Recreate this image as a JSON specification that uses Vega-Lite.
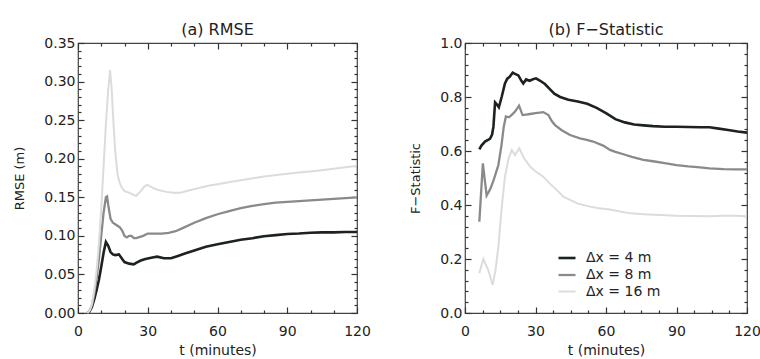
{
  "$schema": "https://vega.github.io/schema/vega-lite/v6.json",
  "background": "white",
  "padding": {"left": 13, "top": 21, "right": 0, "bottom": 2},
  "spacing": 108,
  "bounds": "flush",
  "config": {
    "font": "DejaVu Sans",
    "view": {"stroke": "#444", "strokeWidth": 1.2},
    "axis": {"domain": false, "grid": false, "labelFont": "DejaVu Sans", "labelFontSize": 14, "labelColor": "#222", "tickColor": "#333", "tickWidth": 1.2, "titleFont": "DejaVu Sans", "titleFontSize": 14, "titleFontWeight": "normal", "titleColor": "#222", "labelOverlap": false, "labelFlush": false},
    "title": {"font": "DejaVu Sans", "fontSize": 16, "fontWeight": "normal", "color": "#222", "anchor": "middle", "offset": -2}
  },
  "datasets": {
    "rmse": [
      {"t":4,"v":0,"s":"Δx = 4 m"},{"t":5,"v":0.002,"s":"Δx = 4 m"},{"t":6,"v":0.008,"s":"Δx = 4 m"},{"t":7,"v":0.018,"s":"Δx = 4 m"},{"t":8,"v":0.03,"s":"Δx = 4 m"},{"t":9,"v":0.043,"s":"Δx = 4 m"},{"t":10,"v":0.06,"s":"Δx = 4 m"},{"t":11,"v":0.078,"s":"Δx = 4 m"},{"t":12,"v":0.092,"s":"Δx = 4 m"},{"t":13,"v":0.087,"s":"Δx = 4 m"},{"t":14,"v":0.079,"s":"Δx = 4 m"},{"t":15,"v":0.076,"s":"Δx = 4 m"},{"t":16,"v":0.075,"s":"Δx = 4 m"},{"t":17.6,"v":0.076,"s":"Δx = 4 m"},{"t":19,"v":0.07,"s":"Δx = 4 m"},{"t":20,"v":0.066,"s":"Δx = 4 m"},{"t":22,"v":0.064,"s":"Δx = 4 m"},{"t":24,"v":0.063,"s":"Δx = 4 m"},{"t":25,"v":0.065,"s":"Δx = 4 m"},{"t":27,"v":0.068,"s":"Δx = 4 m"},{"t":29,"v":0.07,"s":"Δx = 4 m"},{"t":32,"v":0.072,"s":"Δx = 4 m"},{"t":34,"v":0.073,"s":"Δx = 4 m"},{"t":37,"v":0.071,"s":"Δx = 4 m"},{"t":40,"v":0.071,"s":"Δx = 4 m"},{"t":43,"v":0.074,"s":"Δx = 4 m"},{"t":46,"v":0.077,"s":"Δx = 4 m"},{"t":50,"v":0.081,"s":"Δx = 4 m"},{"t":55,"v":0.086,"s":"Δx = 4 m"},{"t":60,"v":0.089,"s":"Δx = 4 m"},{"t":65,"v":0.092,"s":"Δx = 4 m"},{"t":70,"v":0.095,"s":"Δx = 4 m"},{"t":75,"v":0.097,"s":"Δx = 4 m"},{"t":80,"v":0.0995,"s":"Δx = 4 m"},{"t":85,"v":0.101,"s":"Δx = 4 m"},{"t":90,"v":0.1025,"s":"Δx = 4 m"},{"t":95,"v":0.103,"s":"Δx = 4 m"},{"t":100,"v":0.104,"s":"Δx = 4 m"},{"t":105,"v":0.1045,"s":"Δx = 4 m"},{"t":110,"v":0.1045,"s":"Δx = 4 m"},{"t":115,"v":0.105,"s":"Δx = 4 m"},{"t":120,"v":0.105,"s":"Δx = 4 m"},
      {"t":4,"v":0,"s":"Δx = 8 m"},{"t":5,"v":0.003,"s":"Δx = 8 m"},{"t":6,"v":0.01,"s":"Δx = 8 m"},{"t":7,"v":0.025,"s":"Δx = 8 m"},{"t":8,"v":0.045,"s":"Δx = 8 m"},{"t":9,"v":0.07,"s":"Δx = 8 m"},{"t":10,"v":0.1,"s":"Δx = 8 m"},{"t":11,"v":0.13,"s":"Δx = 8 m"},{"t":12,"v":0.15,"s":"Δx = 8 m"},{"t":12.5,"v":0.151,"s":"Δx = 8 m"},{"t":13,"v":0.14,"s":"Δx = 8 m"},{"t":14,"v":0.122,"s":"Δx = 8 m"},{"t":15,"v":0.117,"s":"Δx = 8 m"},{"t":16,"v":0.115,"s":"Δx = 8 m"},{"t":17,"v":0.113,"s":"Δx = 8 m"},{"t":18,"v":0.111,"s":"Δx = 8 m"},{"t":19,"v":0.107,"s":"Δx = 8 m"},{"t":20,"v":0.1,"s":"Δx = 8 m"},{"t":21,"v":0.098,"s":"Δx = 8 m"},{"t":22,"v":0.1,"s":"Δx = 8 m"},{"t":23,"v":0.1,"s":"Δx = 8 m"},{"t":24,"v":0.097,"s":"Δx = 8 m"},{"t":25,"v":0.097,"s":"Δx = 8 m"},{"t":26,"v":0.098,"s":"Δx = 8 m"},{"t":28,"v":0.1,"s":"Δx = 8 m"},{"t":30,"v":0.103,"s":"Δx = 8 m"},{"t":33,"v":0.103,"s":"Δx = 8 m"},{"t":36,"v":0.103,"s":"Δx = 8 m"},{"t":39,"v":0.104,"s":"Δx = 8 m"},{"t":42,"v":0.106,"s":"Δx = 8 m"},{"t":45,"v":0.11,"s":"Δx = 8 m"},{"t":50,"v":0.117,"s":"Δx = 8 m"},{"t":55,"v":0.123,"s":"Δx = 8 m"},{"t":60,"v":0.128,"s":"Δx = 8 m"},{"t":65,"v":0.132,"s":"Δx = 8 m"},{"t":70,"v":0.136,"s":"Δx = 8 m"},{"t":75,"v":0.139,"s":"Δx = 8 m"},{"t":80,"v":0.141,"s":"Δx = 8 m"},{"t":85,"v":0.143,"s":"Δx = 8 m"},{"t":90,"v":0.144,"s":"Δx = 8 m"},{"t":95,"v":0.145,"s":"Δx = 8 m"},{"t":100,"v":0.146,"s":"Δx = 8 m"},{"t":105,"v":0.147,"s":"Δx = 8 m"},{"t":110,"v":0.148,"s":"Δx = 8 m"},{"t":115,"v":0.149,"s":"Δx = 8 m"},{"t":120,"v":0.15,"s":"Δx = 8 m"},
      {"t":4,"v":0,"s":"Δx = 16 m"},{"t":5,"v":0.003,"s":"Δx = 16 m"},{"t":6,"v":0.012,"s":"Δx = 16 m"},{"t":7,"v":0.03,"s":"Δx = 16 m"},{"t":8,"v":0.055,"s":"Δx = 16 m"},{"t":9,"v":0.09,"s":"Δx = 16 m"},{"t":10,"v":0.135,"s":"Δx = 16 m"},{"t":11,"v":0.19,"s":"Δx = 16 m"},{"t":12,"v":0.245,"s":"Δx = 16 m"},{"t":13,"v":0.29,"s":"Δx = 16 m"},{"t":13.8,"v":0.315,"s":"Δx = 16 m"},{"t":14.5,"v":0.29,"s":"Δx = 16 m"},{"t":15,"v":0.26,"s":"Δx = 16 m"},{"t":16,"v":0.21,"s":"Δx = 16 m"},{"t":17,"v":0.18,"s":"Δx = 16 m"},{"t":18,"v":0.168,"s":"Δx = 16 m"},{"t":19,"v":0.162,"s":"Δx = 16 m"},{"t":20,"v":0.158,"s":"Δx = 16 m"},{"t":22,"v":0.156,"s":"Δx = 16 m"},{"t":24,"v":0.153,"s":"Δx = 16 m"},{"t":25,"v":0.152,"s":"Δx = 16 m"},{"t":26,"v":0.155,"s":"Δx = 16 m"},{"t":27,"v":0.158,"s":"Δx = 16 m"},{"t":28,"v":0.162,"s":"Δx = 16 m"},{"t":29,"v":0.165,"s":"Δx = 16 m"},{"t":30,"v":0.166,"s":"Δx = 16 m"},{"t":31,"v":0.164,"s":"Δx = 16 m"},{"t":33,"v":0.161,"s":"Δx = 16 m"},{"t":35,"v":0.159,"s":"Δx = 16 m"},{"t":38,"v":0.157,"s":"Δx = 16 m"},{"t":41,"v":0.156,"s":"Δx = 16 m"},{"t":44,"v":0.156,"s":"Δx = 16 m"},{"t":48,"v":0.159,"s":"Δx = 16 m"},{"t":52,"v":0.162,"s":"Δx = 16 m"},{"t":56,"v":0.165,"s":"Δx = 16 m"},{"t":60,"v":0.167,"s":"Δx = 16 m"},{"t":66,"v":0.17,"s":"Δx = 16 m"},{"t":72,"v":0.173,"s":"Δx = 16 m"},{"t":80,"v":0.177,"s":"Δx = 16 m"},{"t":88,"v":0.18,"s":"Δx = 16 m"},{"t":95,"v":0.182,"s":"Δx = 16 m"},{"t":102,"v":0.184,"s":"Δx = 16 m"},{"t":110,"v":0.187,"s":"Δx = 16 m"},{"t":115,"v":0.189,"s":"Δx = 16 m"},{"t":120,"v":0.191,"s":"Δx = 16 m"}
    ],
    "fstat": [
      {"t":6.1,"v":0.606,"s":"Δx = 4 m"},{"t":7,"v":0.62,"s":"Δx = 4 m"},{"t":8.5,"v":0.635,"s":"Δx = 4 m"},{"t":10.6,"v":0.645,"s":"Δx = 4 m"},{"t":11.5,"v":0.66,"s":"Δx = 4 m"},{"t":12.1,"v":0.69,"s":"Δx = 4 m"},{"t":12.8,"v":0.78,"s":"Δx = 4 m"},{"t":13.6,"v":0.772,"s":"Δx = 4 m"},{"t":14.4,"v":0.762,"s":"Δx = 4 m"},{"t":15.6,"v":0.8,"s":"Δx = 4 m"},{"t":17,"v":0.85,"s":"Δx = 4 m"},{"t":18,"v":0.868,"s":"Δx = 4 m"},{"t":19,"v":0.875,"s":"Δx = 4 m"},{"t":20.3,"v":0.89,"s":"Δx = 4 m"},{"t":21.5,"v":0.885,"s":"Δx = 4 m"},{"t":22.7,"v":0.88,"s":"Δx = 4 m"},{"t":24,"v":0.86,"s":"Δx = 4 m"},{"t":24.8,"v":0.85,"s":"Δx = 4 m"},{"t":26,"v":0.865,"s":"Δx = 4 m"},{"t":27.5,"v":0.86,"s":"Δx = 4 m"},{"t":29,"v":0.866,"s":"Δx = 4 m"},{"t":30.2,"v":0.869,"s":"Δx = 4 m"},{"t":32,"v":0.86,"s":"Δx = 4 m"},{"t":34,"v":0.848,"s":"Δx = 4 m"},{"t":36,"v":0.83,"s":"Δx = 4 m"},{"t":38,"v":0.812,"s":"Δx = 4 m"},{"t":40.5,"v":0.8,"s":"Δx = 4 m"},{"t":44,"v":0.79,"s":"Δx = 4 m"},{"t":48,"v":0.783,"s":"Δx = 4 m"},{"t":52,"v":0.775,"s":"Δx = 4 m"},{"t":56,"v":0.76,"s":"Δx = 4 m"},{"t":60,"v":0.74,"s":"Δx = 4 m"},{"t":64,"v":0.718,"s":"Δx = 4 m"},{"t":68,"v":0.706,"s":"Δx = 4 m"},{"t":72,"v":0.698,"s":"Δx = 4 m"},{"t":76,"v":0.695,"s":"Δx = 4 m"},{"t":80,"v":0.692,"s":"Δx = 4 m"},{"t":85,"v":0.69,"s":"Δx = 4 m"},{"t":90,"v":0.69,"s":"Δx = 4 m"},{"t":95,"v":0.689,"s":"Δx = 4 m"},{"t":100,"v":0.688,"s":"Δx = 4 m"},{"t":104,"v":0.688,"s":"Δx = 4 m"},{"t":108,"v":0.683,"s":"Δx = 4 m"},{"t":112,"v":0.678,"s":"Δx = 4 m"},{"t":116,"v":0.672,"s":"Δx = 4 m"},{"t":120,"v":0.668,"s":"Δx = 4 m"},
      {"t":6.1,"v":0.338,"s":"Δx = 8 m"},{"t":7.6,"v":0.554,"s":"Δx = 8 m"},{"t":9.2,"v":0.435,"s":"Δx = 8 m"},{"t":10.8,"v":0.46,"s":"Δx = 8 m"},{"t":12.1,"v":0.49,"s":"Δx = 8 m"},{"t":13.2,"v":0.52,"s":"Δx = 8 m"},{"t":14.2,"v":0.548,"s":"Δx = 8 m"},{"t":15.5,"v":0.62,"s":"Δx = 8 m"},{"t":16.5,"v":0.69,"s":"Δx = 8 m"},{"t":17.4,"v":0.728,"s":"Δx = 8 m"},{"t":18.7,"v":0.725,"s":"Δx = 8 m"},{"t":20,"v":0.735,"s":"Δx = 8 m"},{"t":21.3,"v":0.746,"s":"Δx = 8 m"},{"t":23,"v":0.768,"s":"Δx = 8 m"},{"t":24.5,"v":0.733,"s":"Δx = 8 m"},{"t":26,"v":0.735,"s":"Δx = 8 m"},{"t":27.7,"v":0.737,"s":"Δx = 8 m"},{"t":30,"v":0.74,"s":"Δx = 8 m"},{"t":33.3,"v":0.744,"s":"Δx = 8 m"},{"t":35.5,"v":0.733,"s":"Δx = 8 m"},{"t":37,"v":0.71,"s":"Δx = 8 m"},{"t":38.3,"v":0.696,"s":"Δx = 8 m"},{"t":41,"v":0.678,"s":"Δx = 8 m"},{"t":44.7,"v":0.659,"s":"Δx = 8 m"},{"t":48.9,"v":0.647,"s":"Δx = 8 m"},{"t":51.8,"v":0.641,"s":"Δx = 8 m"},{"t":54.5,"v":0.635,"s":"Δx = 8 m"},{"t":58.8,"v":0.62,"s":"Δx = 8 m"},{"t":61.7,"v":0.604,"s":"Δx = 8 m"},{"t":64,"v":0.597,"s":"Δx = 8 m"},{"t":67.4,"v":0.588,"s":"Δx = 8 m"},{"t":71,"v":0.578,"s":"Δx = 8 m"},{"t":75.9,"v":0.567,"s":"Δx = 8 m"},{"t":80,"v":0.562,"s":"Δx = 8 m"},{"t":85,"v":0.555,"s":"Δx = 8 m"},{"t":90,"v":0.548,"s":"Δx = 8 m"},{"t":95,"v":0.543,"s":"Δx = 8 m"},{"t":100,"v":0.539,"s":"Δx = 8 m"},{"t":104,"v":0.536,"s":"Δx = 8 m"},{"t":110,"v":0.533,"s":"Δx = 8 m"},{"t":115,"v":0.532,"s":"Δx = 8 m"},{"t":120,"v":0.532,"s":"Δx = 8 m"},
      {"t":6.1,"v":0.147,"s":"Δx = 16 m"},{"t":7.8,"v":0.2,"s":"Δx = 16 m"},{"t":9.9,"v":0.159,"s":"Δx = 16 m"},{"t":11.8,"v":0.104,"s":"Δx = 16 m"},{"t":13,"v":0.16,"s":"Δx = 16 m"},{"t":14.2,"v":0.246,"s":"Δx = 16 m"},{"t":15.5,"v":0.38,"s":"Δx = 16 m"},{"t":17,"v":0.505,"s":"Δx = 16 m"},{"t":18.5,"v":0.57,"s":"Δx = 16 m"},{"t":19.9,"v":0.604,"s":"Δx = 16 m"},{"t":21.3,"v":0.585,"s":"Δx = 16 m"},{"t":23.1,"v":0.61,"s":"Δx = 16 m"},{"t":25,"v":0.575,"s":"Δx = 16 m"},{"t":27.7,"v":0.542,"s":"Δx = 16 m"},{"t":30,"v":0.525,"s":"Δx = 16 m"},{"t":33.3,"v":0.505,"s":"Δx = 16 m"},{"t":36,"v":0.48,"s":"Δx = 16 m"},{"t":39,"v":0.456,"s":"Δx = 16 m"},{"t":42,"v":0.43,"s":"Δx = 16 m"},{"t":44.7,"v":0.419,"s":"Δx = 16 m"},{"t":48,"v":0.405,"s":"Δx = 16 m"},{"t":53.2,"v":0.394,"s":"Δx = 16 m"},{"t":57,"v":0.388,"s":"Δx = 16 m"},{"t":61.7,"v":0.383,"s":"Δx = 16 m"},{"t":66,"v":0.376,"s":"Δx = 16 m"},{"t":70.2,"v":0.369,"s":"Δx = 16 m"},{"t":76,"v":0.366,"s":"Δx = 16 m"},{"t":83,"v":0.363,"s":"Δx = 16 m"},{"t":90,"v":0.36,"s":"Δx = 16 m"},{"t":97,"v":0.359,"s":"Δx = 16 m"},{"t":104,"v":0.358,"s":"Δx = 16 m"},{"t":110,"v":0.36,"s":"Δx = 16 m"},{"t":115,"v":0.36,"s":"Δx = 16 m"},{"t":120,"v":0.358,"s":"Δx = 16 m"}
    ]
  },
  "resolve": {"scale": {"color": "independent", "strokeWidth": "independent"}, "legend": {"color": "independent", "strokeWidth": "independent"}},
  "hconcat": [
    {
      "width": 279, "height": 270,
      "title": {"text": "(a) RMSE"},
      "data": {"name": "rmse"},
      "resolve": {"axis": {"x": "independent", "y": "independent"}},
      "layer": [
        {
          "mark": {"type": "line", "interpolate": "linear"},
          "encoding": {
            "x": {"field": "t", "type": "quantitative", "scale": {"domain": [0, 120], "nice": false},
              "axis": {"orient": "bottom", "values": [0,10,20,30,40,50,60,70,80,90,100,110,120], "labelExpr": "datum.value % 30 === 0 ? datum.label : ''", "tickSize": {"condition": {"test": "datum.value % 30 === 0", "value": -6}, "value": -3}, "labelPadding": 17, "title": "t (minutes)", "titlePadding": 2}},
            "y": {"field": "v", "type": "quantitative", "scale": {"domain": [0, 0.35], "nice": false, "zero": false},
              "axis": {"orient": "left", "values": [0,0.01,0.02,0.03,0.04,0.05,0.06,0.07,0.08,0.09,0.1,0.11,0.12,0.13,0.14,0.15,0.16,0.17,0.18,0.19,0.2,0.21,0.22,0.23,0.24,0.25,0.26,0.27,0.28,0.29,0.3,0.31,0.32,0.33,0.34,0.35], "labelExpr": "abs(datum.value*20 - round(datum.value*20)) < 0.001 ? format(datum.value, '.2f') : ''", "tickSize": {"condition": {"test": "abs(datum.value*20 - round(datum.value*20)) < 0.001", "value": -6}, "value": -3}, "labelPadding": 9, "title": "RMSE (m)", "titleFontSize": 13, "titlePadding": 17}},
            "color": {"field": "s", "type": "nominal", "scale": {"domain": ["Δx = 4 m", "Δx = 8 m", "Δx = 16 m"], "range": ["#1c221e", "#8a8a8a", "#dcdcdc"]}, "legend": null},
            "strokeWidth": {"field": "s", "type": "nominal", "scale": {"domain": ["Δx = 4 m", "Δx = 8 m", "Δx = 16 m"], "range": [2.6, 2, 1.6]}, "legend": null}
          }
        },
        {
          "mark": {"type": "line", "opacity": 0},
          "encoding": {
            "x": {"field": "t", "type": "quantitative", "axis": {"orient": "top", "values": [0,10,20,30,40,50,60,70,80,90,100,110,120], "labels": false, "title": null, "tickSize": {"condition": {"test": "datum.value % 30 === 0", "value": -6}, "value": -3}}},
            "y": {"field": "v", "type": "quantitative", "axis": {"orient": "right", "values": [0,0.01,0.02,0.03,0.04,0.05,0.06,0.07,0.08,0.09,0.1,0.11,0.12,0.13,0.14,0.15,0.16,0.17,0.18,0.19,0.2,0.21,0.22,0.23,0.24,0.25,0.26,0.27,0.28,0.29,0.3,0.31,0.32,0.33,0.34,0.35], "labels": false, "title": null, "tickSize": {"condition": {"test": "abs(datum.value*20 - round(datum.value*20)) < 0.001", "value": -6}, "value": -3}}},
            "detail": {"field": "s", "type": "nominal"}
          }
        }
      ]
    },
    {
      "width": 282, "height": 270,
      "title": {"text": "(b) F−Statistic"},
      "data": {"name": "fstat"},
      "resolve": {"axis": {"x": "independent", "y": "independent"}},
      "layer": [
        {
          "mark": {"type": "line", "interpolate": "linear"},
          "encoding": {
            "x": {"field": "t", "type": "quantitative", "scale": {"domain": [0, 120], "nice": false},
              "axis": {"orient": "bottom", "values": [0,7.5,15,22.5,30,37.5,45,52.5,60,67.5,75,82.5,90,97.5,105,112.5,120], "labelExpr": "datum.value % 30 === 0 ? datum.label : ''", "tickSize": {"condition": {"test": "datum.value % 30 === 0", "value": -6}, "value": -3}, "labelPadding": 17, "title": "t (minutes)", "titlePadding": 2}},
            "y": {"field": "v", "type": "quantitative", "scale": {"domain": [0, 1], "nice": false},
              "axis": {"orient": "left", "values": [0,0.04,0.08,0.12,0.16,0.2,0.24,0.28,0.32,0.36,0.4,0.44,0.48,0.52,0.56,0.6,0.64,0.68,0.72,0.76,0.8,0.84,0.88,0.92,0.96,1], "labelExpr": "abs(datum.value*5 - round(datum.value*5)) < 0.001 ? format(datum.value, '.1f') : ''", "tickSize": {"condition": {"test": "abs(datum.value*5 - round(datum.value*5)) < 0.001", "value": -6}, "value": -3}, "labelPadding": 9, "title": "F−Statistic", "titleFontSize": 13, "titlePadding": 17}},
            "color": {"field": "s", "type": "nominal", "scale": {"domain": ["Δx = 4 m", "Δx = 8 m", "Δx = 16 m"], "range": ["#1c221e", "#8a8a8a", "#dcdcdc"]},
              "legend": {"orient": "none", "legendX": 92, "legendY": 205, "title": null, "symbolType": "stroke", "symbolSize": 289, "symbolStrokeWidth": 2.2, "labelFontSize": 14, "labelFont": "DejaVu Sans", "labelColor": "#222", "labelOffset": 9, "rowPadding": -2, "padding": 0}},
            "strokeWidth": {"field": "s", "type": "nominal", "scale": {"domain": ["Δx = 4 m", "Δx = 8 m", "Δx = 16 m"], "range": [2.6, 2, 1.6]}, "legend": null}
          }
        },
        {
          "mark": {"type": "line", "opacity": 0},
          "encoding": {
            "x": {"field": "t", "type": "quantitative", "axis": {"orient": "top", "values": [0,7.5,15,22.5,30,37.5,45,52.5,60,67.5,75,82.5,90,97.5,105,112.5,120], "labels": false, "title": null, "tickSize": {"condition": {"test": "datum.value % 30 === 0", "value": -6}, "value": -3}}},
            "y": {"field": "v", "type": "quantitative", "axis": {"orient": "right", "values": [0,0.04,0.08,0.12,0.16,0.2,0.24,0.28,0.32,0.36,0.4,0.44,0.48,0.52,0.56,0.6,0.64,0.68,0.72,0.76,0.8,0.84,0.88,0.92,0.96,1], "labels": false, "title": null, "tickSize": {"condition": {"test": "abs(datum.value*5 - round(datum.value*5)) < 0.001", "value": -6}, "value": -3}}},
            "detail": {"field": "s", "type": "nominal"}
          }
        }
      ]
    }
  ]
}
